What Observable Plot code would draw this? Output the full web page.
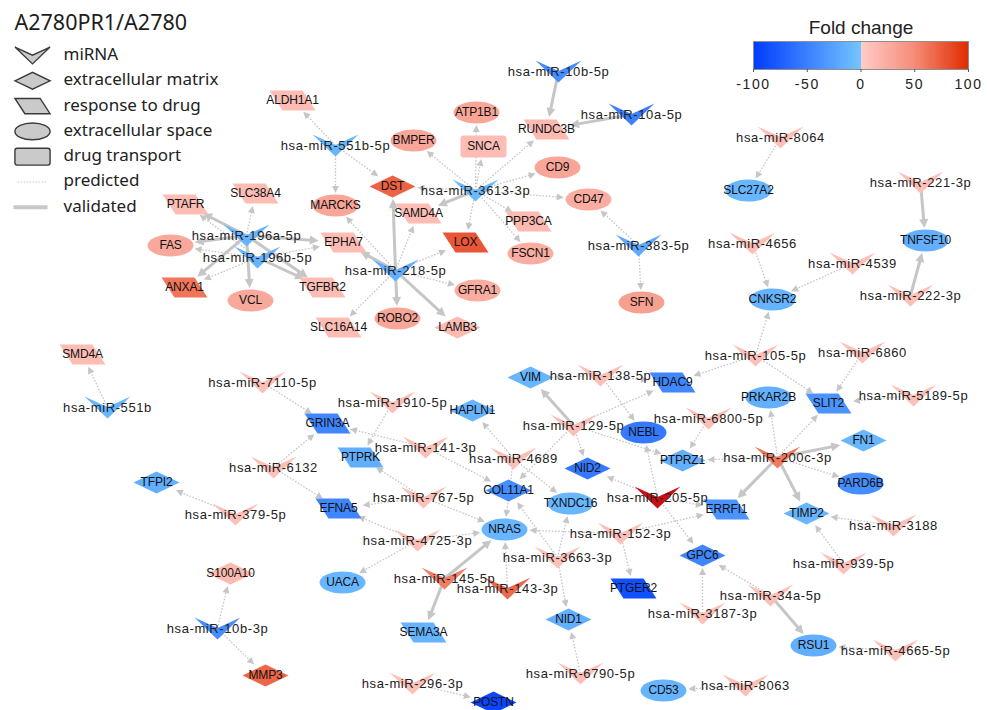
<!DOCTYPE html>
<html>
<head>
<meta charset="utf-8">
<script src="https://cdn.jsdelivr.net/npm/d3@7"></script>
<script src="https://cdn.jsdelivr.net/npm/@observablehq/plot@0.6"></script>
<style>
  body { margin: 0; background: #fff; }
  #chart { position: relative; width: 987px; height: 710px; }
  #fold-legend { position: absolute; left: 700px; top: 0; }
</style>
</head>
<body>
<div id="chart"></div>
<script>
// ---- miRNA nodes (layout position, fold change) ----
const mirnaNames = [
  "hsa-miR-551b-5p", "hsa-miR-196a-5p", "hsa-miR-196b-5p", "hsa-miR-218-5p", "hsa-miR-3613-3p",
  "hsa-miR-10b-5p", "hsa-miR-10a-5p", "hsa-miR-383-5p", "hsa-miR-8064", "hsa-miR-221-3p",
  "hsa-miR-4656", "hsa-miR-4539", "hsa-miR-222-3p", "hsa-miR-105-5p", "hsa-miR-6860",
  "hsa-miR-5189-5p", "hsa-miR-6800-5p", "hsa-miR-200c-3p", "hsa-miR-3188", "hsa-miR-939-5p",
  "hsa-miR-34a-5p", "hsa-miR-4665-5p", "hsa-miR-8063", "hsa-miR-3187-3p", "hsa-miR-205-5p",
  "hsa-miR-152-3p", "hsa-miR-3663-3p", "hsa-miR-6790-5p", "hsa-miR-296-3p", "hsa-miR-143-3p",
  "hsa-miR-145-5p", "hsa-miR-4725-3p", "hsa-miR-767-5p", "hsa-miR-138-5p", "hsa-miR-129-5p",
  "hsa-miR-4689", "hsa-miR-141-3p", "hsa-miR-1910-5p", "hsa-miR-7110-5p", "hsa-miR-6132",
  "hsa-miR-379-5p", "hsa-miR-551b", "hsa-miR-10b-3p"
];
const mirnaX = [
  335, 246, 257, 395, 475,
  558, 631, 638, 780, 920,
  752, 852, 910, 755, 862,
  913, 708, 777, 893, 843,
  770, 895, 745, 702, 657,
  620, 557, 580, 412, 507,
  444, 417, 423, 600, 573,
  513, 425, 392, 262, 273,
  235, 107, 217
];
const mirnaY = [
  145, 235, 257, 270, 190,
  71, 114, 245, 137, 182,
  243, 263, 295, 355, 352,
  395, 418, 457, 525, 563,
  595, 650, 685, 613, 497,
  533, 557, 673, 683, 588,
  578, 540, 497, 375, 425,
  458, 447, 402, 382, 467,
  514, 407, 628
];
const mirnaFold = [
  -10, -12, -12, -15, -8,
  -40, -50, -20, 10, 10,
  10, 10, 10, 10, 10,
  10, 10, 60, 10, 10,
  10, 10, 10, 10, 140,
  10, 10, 10, 10, 68,
  58, 10, 10, 10, 10,
  10, 10, 10, 10, 10,
  10, -10, -40
];

// ---- gene nodes (GO category, layout position, fold change) ----
const geneNames = [
  "ALDH1A1", "BMPER", "DST", "SLC38A4", "MARCKS", "SAMD4A", "PTAFR", "FAS",
  "EPHA7", "LOX", "ANXA1", "TGFBR2", "VCL", "GFRA1", "ROBO2", "SLC16A14",
  "LAMB3", "ATP1B1", "RUNDC3B", "SNCA", "CD9", "CD47", "PPP3CA", "FSCN1",
  "SFN", "SLC27A2", "TNFSF10", "CNKSR2", "SMD4A", "VIM", "HDAC9", "HAPLN1",
  "GRIN3A", "PTPRK", "NEBL", "PRKAR2B", "SLIT2", "FN1", "PTPRZ1", "PARD6B",
  "NID2", "COL11A1", "TXNDC16", "EFNA5", "TFPI2", "NRAS", "ERRFI1", "TIMP2",
  "GPC6", "UACA", "S100A10", "SEMA3A", "PTGER2", "NID1", "MMP3", "POSTN",
  "CD53", "RSU1"
];
const geneCategory = [
  "drug", "space", "matrix", "drug", "space", "drug", "drug", "space",
  "drug", "drug", "drug", "drug", "space", "space", "space", "drug",
  "matrix", "space", "drug", "transport", "space", "space", "drug", "space",
  "space", "space", "space", "space", "drug", "matrix", "drug", "matrix",
  "drug", "drug", "space", "space", "drug", "matrix", "matrix", "space",
  "matrix", "matrix", "space", "drug", "matrix", "space", "drug", "matrix",
  "matrix", "space", "matrix", "drug", "drug", "matrix", "matrix", "matrix",
  "space", "space"
];
const geneX = [
  292, 413, 392, 255, 335, 418, 185, 170,
  343, 465, 184, 322, 250, 477, 397, 338,
  457, 476, 546, 483, 557, 588, 528, 530,
  641, 748, 925, 772, 82, 530, 672, 472,
  327, 360, 643, 768, 828, 863, 682, 860,
  587, 508, 570, 338, 156, 504, 726, 806,
  702, 342, 230, 423, 633, 568, 265, 493,
  663, 813
];
const geneY = [
  100, 140, 186, 193, 205, 213, 204, 245,
  242, 242, 287, 287, 300, 290, 318, 327,
  327, 112, 129, 146, 167, 199, 221, 253,
  302, 190, 240, 299, 354, 377, 382, 410,
  423, 457, 432, 397, 403, 440, 460, 483,
  468, 490, 503, 508, 482, 529, 509, 513,
  555, 582, 573, 632, 588, 619, 675, 702,
  690, 645
];
const geneFold = [
  12, 30, 72, 12, 30, 12, 12, 28,
  12, 78, 62, 12, 28, 25, 30, 12,
  15, 30, 15, 12, 30, 25, 15, 25,
  35, -10, -15, -12, 12, -10, -45, -12,
  -45, -15, -55, -15, -35, -10, -15, -40,
  -55, -40, -10, -45, -15, -10, -35, -10,
  -45, -10, 15, -12, -85, -15, 70, -92,
  -12, -15
];

// ---- interactions: miRNA -> target, "p" predicted / "v" validated ----
const edgeFrom = [
  "hsa-miR-551b-5p", "hsa-miR-551b-5p", "hsa-miR-551b-5p",
  "hsa-miR-196a-5p", "hsa-miR-196a-5p", "hsa-miR-196a-5p", "hsa-miR-196a-5p", "hsa-miR-196a-5p", "hsa-miR-196a-5p", "hsa-miR-196a-5p",
  "hsa-miR-196b-5p", "hsa-miR-196b-5p", "hsa-miR-196b-5p", "hsa-miR-196b-5p", "hsa-miR-196b-5p",
  "hsa-miR-218-5p", "hsa-miR-218-5p", "hsa-miR-218-5p", "hsa-miR-218-5p", "hsa-miR-218-5p", "hsa-miR-218-5p", "hsa-miR-218-5p", "hsa-miR-218-5p", "hsa-miR-218-5p",
  "hsa-miR-3613-3p", "hsa-miR-3613-3p", "hsa-miR-3613-3p", "hsa-miR-3613-3p", "hsa-miR-3613-3p", "hsa-miR-3613-3p", "hsa-miR-3613-3p", "hsa-miR-3613-3p", "hsa-miR-3613-3p", "hsa-miR-3613-3p", "hsa-miR-3613-3p",
  "hsa-miR-10b-5p", "hsa-miR-10a-5p", "hsa-miR-383-5p", "hsa-miR-383-5p",
  "hsa-miR-8064", "hsa-miR-221-3p", "hsa-miR-222-3p", "hsa-miR-4656", "hsa-miR-4539",
  "hsa-miR-105-5p", "hsa-miR-105-5p", "hsa-miR-105-5p", "hsa-miR-6860", "hsa-miR-5189-5p",
  "hsa-miR-200c-3p", "hsa-miR-200c-3p", "hsa-miR-200c-3p", "hsa-miR-200c-3p", "hsa-miR-200c-3p", "hsa-miR-200c-3p", "hsa-miR-200c-3p",
  "hsa-miR-6800-5p", "hsa-miR-3188", "hsa-miR-939-5p", "hsa-miR-34a-5p", "hsa-miR-34a-5p", "hsa-miR-4665-5p", "hsa-miR-8063", "hsa-miR-3187-3p",
  "hsa-miR-138-5p", "hsa-miR-138-5p", "hsa-miR-138-5p",
  "hsa-miR-129-5p", "hsa-miR-129-5p", "hsa-miR-129-5p", "hsa-miR-129-5p", "hsa-miR-129-5p",
  "hsa-miR-205-5p", "hsa-miR-205-5p", "hsa-miR-205-5p", "hsa-miR-205-5p",
  "hsa-miR-152-3p", "hsa-miR-152-3p", "hsa-miR-152-3p",
  "hsa-miR-3663-3p", "hsa-miR-3663-3p", "hsa-miR-3663-3p",
  "hsa-miR-4689", "hsa-miR-4689", "hsa-miR-4689",
  "hsa-miR-141-3p", "hsa-miR-141-3p", "hsa-miR-1910-5p", "hsa-miR-7110-5p", "hsa-miR-6132", "hsa-miR-6132", "hsa-miR-379-5p",
  "hsa-miR-767-5p", "hsa-miR-767-5p", "hsa-miR-767-5p",
  "hsa-miR-4725-3p", "hsa-miR-4725-3p", "hsa-miR-4725-3p",
  "hsa-miR-145-5p", "hsa-miR-145-5p", "hsa-miR-143-3p", "hsa-miR-6790-5p", "hsa-miR-296-3p",
  "hsa-miR-10b-3p", "hsa-miR-10b-3p", "hsa-miR-551b"
];
const edgeTo = [
  "ALDH1A1", "MARCKS", "DST",
  "PTAFR", "SLC38A4", "FAS", "EPHA7", "ANXA1", "VCL", "TGFBR2",
  "PTAFR", "FAS", "EPHA7", "TGFBR2", "ANXA1",
  "EPHA7", "MARCKS", "SAMD4A", "DST", "LOX", "GFRA1", "ROBO2", "LAMB3", "SLC16A14",
  "BMPER", "SNCA", "ATP1B1", "RUNDC3B", "CD9", "CD47", "PPP3CA", "FSCN1", "LOX", "SAMD4A", "DST",
  "RUNDC3B", "RUNDC3B", "CD47", "SFN",
  "SLC27A2", "TNFSF10", "TNFSF10", "CNKSR2", "CNKSR2",
  "CNKSR2", "HDAC9", "SLIT2", "SLIT2", "SLIT2",
  "PRKAR2B", "SLIT2", "FN1", "PARD6B", "TIMP2", "ERRFI1", "PTPRZ1",
  "PTPRZ1", "TIMP2", "TIMP2", "GPC6", "RSU1", "RSU1", "CD53", "GPC6",
  "VIM", "HDAC9", "NEBL",
  "VIM", "HDAC9", "NID2", "PTPRZ1", "COL11A1",
  "NID2", "NEBL", "ERRFI1", "GPC6",
  "NRAS", "ERRFI1", "PTGER2",
  "TXNDC16", "COL11A1", "NID1",
  "HAPLN1", "TXNDC16", "NRAS",
  "GRIN3A", "COL11A1", "PTPRK", "GRIN3A", "GRIN3A", "EFNA5", "TFPI2",
  "EFNA5", "PTPRK", "NRAS",
  "NRAS", "UACA", "EFNA5",
  "NRAS", "SEMA3A", "NRAS", "NID1", "POSTN",
  "S100A10", "MMP3", "SMD4A"
];
const edgeKind = [
  "p", "p", "p",
  "v", "p", "v", "v", "v", "v", "v",
  "p", "p", "p", "v", "p",
  "v", "p", "p", "v", "p", "p", "v", "v", "p",
  "p", "p", "p", "p", "p", "p", "p", "p", "p", "v", "p",
  "v", "v", "p", "p",
  "p", "v", "v", "p", "p",
  "p", "p", "p", "p", "p",
  "p", "p", "v", "p", "v", "v", "p",
  "p", "p", "p", "p", "v", "p", "p", "p",
  "p", "p", "p",
  "v", "p", "p", "p", "p",
  "p", "p", "p", "p",
  "p", "p", "p",
  "p", "p", "p",
  "p", "p", "p",
  "p", "p", "p", "p", "p", "p", "p",
  "p", "p", "p",
  "p", "p", "p",
  "v", "v", "p", "p", "p",
  "p", "p", "p"
];

// ---- legend content ----
const chartTitle = "A2780PR1/A2780";
const shapeLegendTypes = ["miRNA", "matrix", "drug", "space", "transport"];
const shapeLegendLabels = ["miRNA", "extracellular matrix", "response to drug", "extracellular space", "drug transport"];
const edgeLegendKinds = ["p", "v"];
const edgeLegendLabels = ["predicted", "validated"];
const foldTitle = "Fold change";
const foldTicks = [-100, -50, 0, 50, 100];

// diverging fold-change colours: blues below zero, pinks to red above
const foldColor = {
  type: "linear",
  domain: [-100, -0.01, 0, 50, 100, 150],
  range: ["#003bff", "#74c4ff", "#ffcdc8", "#f58c78", "#e02c00", "#c4061c"],
  interpolate: "rgb"
};

// ---- node shapes as custom symbols (r = 11 gives a 46 x 22 node) ----
function nodeShape(kind) {
  return {
    draw(ctx, size) {
      const k = Math.sqrt(size / Math.PI) / 11;
      const w = 23 * k, h = 11 * k;
      if (kind === "miRNA") {
        ctx.moveTo(-w, -h); ctx.lineTo(0, -0.5 * k); ctx.lineTo(w, -h); ctx.lineTo(0, h); ctx.closePath();
      } else if (kind === "matrix") {
        ctx.moveTo(-w, 0); ctx.lineTo(0, -h); ctx.lineTo(w, 0); ctx.lineTo(0, h); ctx.closePath();
      } else if (kind === "drug") {
        const hh = 10 * k, s = 13 * k;
        ctx.moveTo(-w, -hh); ctx.lineTo(w - s, -hh); ctx.lineTo(w, hh); ctx.lineTo(-w + s, hh); ctx.closePath();
      } else if (kind === "space") {
        const a = w, b = 11 * k, ox = a * 0.5523, oy = b * 0.5523;
        ctx.moveTo(-a, 0);
        ctx.bezierCurveTo(-a, -oy, -ox, -b, 0, -b);
        ctx.bezierCurveTo(ox, -b, a, -oy, a, 0);
        ctx.bezierCurveTo(a, oy, ox, b, 0, b);
        ctx.bezierCurveTo(-ox, b, -a, oy, -a, 0);
        ctx.closePath();
      } else {
        const r = 3 * k;
        ctx.moveTo(-w + r, -h); ctx.lineTo(w - r, -h); ctx.arcTo(w, -h, w, -h + r, r);
        ctx.lineTo(w, h - r); ctx.arcTo(w, h, w - r, h, r);
        ctx.lineTo(-w + r, h); ctx.arcTo(-w, h, -w, h - r, r);
        ctx.lineTo(-w, -h + r); ctx.arcTo(-w, -h, -w + r, -h, r);
        ctx.closePath();
      }
    }
  };
}
// arrow head with its tip at the origin, pointing up before rotation
const arrowHead = {
  draw(ctx, size) {
    const k = Math.sqrt(size / Math.PI);
    ctx.moveTo(0, 0); ctx.lineTo(-0.5 * k, k); ctx.lineTo(0.5 * k, k); ctx.closePath();
  }
};

const mirnas = mirnaNames.map((name, i) => ({name, kind: "miRNA", x: mirnaX[i], y: mirnaY[i], fold: mirnaFold[i]}));
const genes = geneNames.map((name, i) => ({name, kind: geneCategory[i], x: geneX[i], y: geneY[i], fold: geneFold[i]}));
const nodes = mirnas.concat(genes);
const byName = new Map(nodes.map(n => [n.name, n]));

// edges stop at the target's outline, where the arrow head sits
const edges = edgeFrom.map((from, i) => {
  const s = byName.get(from), t = byName.get(edgeTo[i]);
  const dx = t.x - s.x, dy = t.y - s.y, len = Math.hypot(dx, dy);
  const ux = dx / len, uy = dy / len;
  const reach = 1 / Math.sqrt((ux / 25) ** 2 + (uy / 12.5) ** 2);
  const tipX = t.x - ux * reach, tipY = t.y - uy * reach;
  return {
    kind: edgeKind[i],
    x1: s.x, y1: s.y,
    x2: tipX - ux * 4, y2: tipY - uy * 4,
    tipX, tipY,
    angle: Math.atan2(ux, -uy) * 180 / Math.PI
  };
});

const legendRows = shapeLegendTypes.map((kind, i) => ({kind, label: shapeLegendLabels[i], y: 55 + i * 25.3}));
const edgeRows = edgeLegendKinds.map((kind, i) => ({kind, label: edgeLegendLabels[i], y: 55 + (i + 5) * 25.3}));

const edgeGrey = "#c6c6c6";
const labelFont = "Liberation Sans, Arial, sans-serif";
const legendFont = "Noto Sans, sans-serif";
const shapeKinds = ["miRNA", "matrix", "drug", "space", "transport"];

const network = Plot.plot({
  width: 987,
  height: 710,
  margin: 0,
  x: {type: "identity", axis: null},
  y: {type: "identity", axis: null},
  color: foldColor,
  style: {fontFamily: labelFont, background: "#fff"},
  marks: [
    // interactions
    Plot.link(edges.filter(e => e.kind === "p"), {
      x1: "x1", y1: "y1", x2: "x2", y2: "y2",
      stroke: edgeGrey, strokeWidth: 1.3, strokeDasharray: "1.6,1.6"
    }),
    Plot.link(edges.filter(e => e.kind === "v"), {
      x1: "x1", y1: "y1", x2: "x2", y2: "y2",
      stroke: edgeGrey, strokeWidth: 3
    }),
    Plot.dot(edges.filter(e => e.kind === "p"), {
      x: "tipX", y: "tipY", symbol: arrowHead, r: 7, rotate: "angle", fill: edgeGrey
    }),
    Plot.dot(edges.filter(e => e.kind === "v"), {
      x: "tipX", y: "tipY", symbol: arrowHead, r: 9, rotate: "angle", fill: edgeGrey
    }),
    // nodes, one mark per shape
    ...shapeKinds.map(kind => Plot.dot(nodes.filter(n => n.kind === kind), {
      x: "x", y: "y", symbol: nodeShape(kind), r: 11, fill: "fold"
    })),
    // node labels
    Plot.text(mirnas, {x: "x", y: "y", text: "name", fontSize: 13, fill: "#222", fontFamily: labelFont}),
    Plot.text(genes, {x: "x", y: "y", text: "name", fontSize: 12, fill: "#111", fontFamily: labelFont}),
    // title and shape / edge legend
    Plot.text([chartTitle], {x: 14, y: 23, text: d => d, textAnchor: "start", fontSize: 21.5, fill: "#1c1c1c", fontFamily: legendFont}),
    ...legendRows.map(row => Plot.dot([row], {
      x: 32, y: "y", symbol: nodeShape(row.kind), r: 8.4, fill: "#cacaca", stroke: "#3a3a3a", strokeWidth: 1.4
    })),
    Plot.text(legendRows.concat(edgeRows), {x: 63, y: "y", text: "label", textAnchor: "start", fontSize: 17, fill: "#222", fontFamily: legendFont, dy: -1}),
    Plot.link(edgeRows.filter(r => r.kind === "p"), {x1: 17, x2: 47, y1: "y", y2: "y", stroke: "#c8c8c8", strokeWidth: 1.2, strokeDasharray: "1.5,1.5"}),
    Plot.link(edgeRows.filter(r => r.kind === "v"), {x1: 13, x2: 47, y1: "y", y2: "y", stroke: "#c8c8c8", strokeWidth: 4})
  ]
});
d3.select(network).selectAll('g[aria-label="text"][font-size="13"]').attr("letter-spacing", "0.6");
d3.select(network).selectAll('g[aria-label="text"][font-size="12"]').attr("letter-spacing", "-0.15");

// fold-change colour bar
const foldSteps = d3.range(-100, 100, 1);
const foldLegend = Plot.plot({
  width: 287,
  height: 100,
  marginLeft: 53,
  marginRight: 19,
  marginTop: 41,
  marginBottom: 31,
  x: {domain: [-100, 100], axis: null},
  y: {domain: [0, 1], axis: null},
  color: foldColor,
  style: {fontFamily: labelFont, background: "transparent", color: "#222"},
  marks: [
    Plot.rect(foldSteps, {x1: d => d, x2: d => d + 1, y1: 0, y2: 1, fill: d => d + 0.5, shapeRendering: "crispEdges"}),
    Plot.frame({stroke: "#8e8e8e"}),
    Plot.axisX({ticks: foldTicks, tickFormat: d => String(d), tickSize: 3, tickPadding: 7, fontSize: 14, stroke: "#555"}),
    Plot.text([foldTitle], {frameAnchor: "top", lineAnchor: "middle", dy: -14, fontSize: 19, fill: "#222", fontFamily: labelFont})
  ]
});
d3.select(foldLegend).selectAll('g[aria-label="x-axis tick label"]').attr("letter-spacing", "1.6");
foldLegend.id = "fold-legend";

const chart = document.getElementById("chart");
chart.append(network);
chart.append(foldLegend);
</script>
</body>
</html>
